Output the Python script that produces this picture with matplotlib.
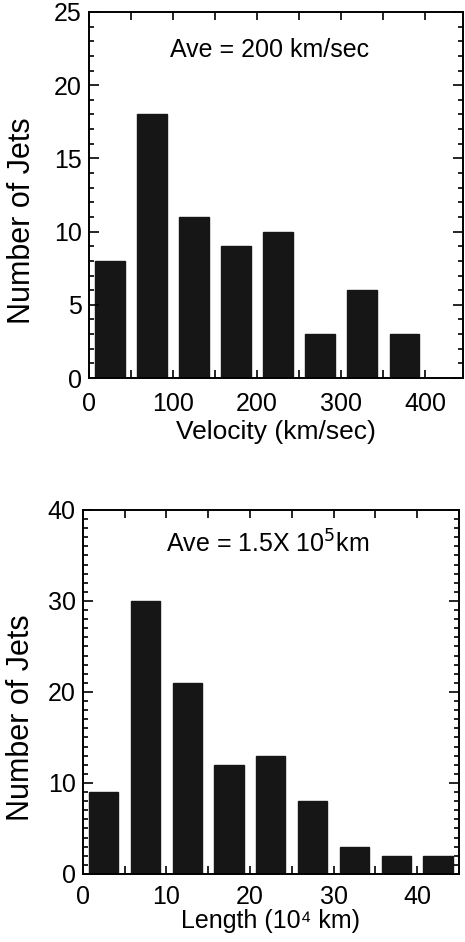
import matplotlib
matplotlib.use("Agg")
import matplotlib.pyplot as plt
from matplotlib.ticker import MultipleLocator

plt.rcParams['font.family'] = ['Liberation Sans', 'DejaVu Sans']

# velocity histogram (bin width 50 km/sec)
vel_centers = [25, 75, 125, 175, 225, 275, 325, 375]
vel_counts = [8, 18, 11, 9, 10, 3, 6, 3]

# length histogram (bin width 5 x 10^4 km)
len_centers = [2.5, 7.5, 12.5, 17.5, 22.5, 27.5, 32.5, 37.5, 42.5]
len_counts = [9, 30, 21, 12, 13, 8, 3, 2, 2]


def style_axis(ax, x_major, x_minor, y_major, y_minor, xpad=10):
    ax.xaxis.set_major_locator(MultipleLocator(x_major))
    ax.xaxis.set_minor_locator(MultipleLocator(x_minor))
    ax.yaxis.set_major_locator(MultipleLocator(y_major))
    ax.yaxis.set_minor_locator(MultipleLocator(y_minor))
    ax.tick_params(which='both', direction='in', top=True, right=True,
                   labelsize=18, width=1.2)
    ax.tick_params(axis='x', which='both', length=6, pad=xpad)
    ax.tick_params(axis='y', which='major', length=7, pad=5)
    ax.tick_params(axis='y', which='minor', length=3.5, pad=5)
    for sp in ax.spines.values():
        sp.set_linewidth(1.4)


fig = plt.figure(figsize=(4.65, 9.42), dpi=100)

ax1 = fig.add_axes([0.191, 0.5987, 0.805, 0.3886])
ax1.bar(vel_centers, vel_counts, width=35, color='#161616', edgecolor='#161616')
ax1.set_xlim(0, 445)
ax1.set_ylim(0, 25)
style_axis(ax1, 100, 50, 5, 1)
ax1.set_xlabel("Velocity (km/sec)", fontsize=19, labelpad=3)
ax1.set_ylabel("Number of Jets", fontsize=22)
ax1.yaxis.set_label_coords(-0.139, 0.43)
ax1.text(215, 21.9, "Ave = 200 km/sec", fontsize=18, ha='center', va='baseline')

ax2 = fig.add_axes([0.178, 0.0722, 0.809, 0.3864])
ax2.bar(len_centers, len_counts, width=3.5, color='#161616', edgecolor='#161616')
ax2.set_xlim(0, 45)
ax2.set_ylim(0, 40)
style_axis(ax2, 10, 5, 10, 1, xpad=8)
ax2.set_xlabel("Length (10\u2074 km)", fontsize=18, labelpad=0)
ax2.set_ylabel("Number of Jets", fontsize=22)
ax2.yaxis.set_label_coords(-0.123, 0.43)
ax2.text(22.1, 35.3, r"Ave = 1.5X 10$^5$km", fontsize=18, ha='center', va='baseline')

fig.savefig("out.png", dpi=100)
